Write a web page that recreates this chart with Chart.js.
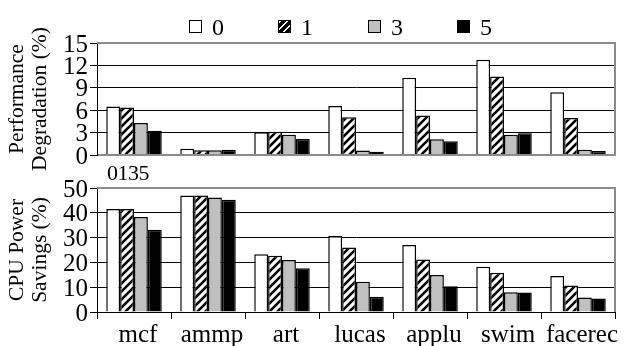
<!DOCTYPE html>
<html>
<head>
<meta charset="utf-8">
<script src="https://cdn.jsdelivr.net/npm/chart.js@4.4.0/dist/chart.umd.min.js"></script>
<style>
html, body { margin: 0; padding: 0; background: #fff; }
#wrap { position: relative; width: 624px; height: 346px; overflow: hidden; font-family: 'Liberation Serif', 'Times New Roman', serif; color: #000; }
#topBox { position: absolute; left: 0; top: 0; width: 624px; height: 175px; }
#botBox { position: absolute; left: 0; top: 165px; width: 624px; height: 181px; }
.lg { position: absolute; top: 20px; width: 13px; height: 13px; box-sizing: border-box; border: 1.5px solid #000; }
.lt { position: absolute; top: 15px; font-size: 24px; line-height: 24px; }
#stray { position: absolute; left: 107px; top: 162px; font-size: 22px; line-height: 22px; letter-spacing: -0.5px; }
</style>
</head>
<body>
<div id="wrap">
  <div id="topBox"><canvas id="perfChart"></canvas></div>
  <div id="botBox"><canvas id="saveChart"></canvas></div>
  <div id="legend"></div>
  <div id="stray">0135</div>
</div>
<script>
const benchmarks = ['mcf', 'ammp', 'art', 'lucas', 'applu', 'swim', 'facerec'];
const seriesNames = ['0', '1', '3', '5'];

const perf0 = [6.5, 0.85, 3.05, 6.55, 10.35, 12.75, 8.4];
const perf1 = [6.35, 0.65, 3.1, 5.05, 5.3, 10.5, 4.95];
const perf3 = [4.3, 0.65, 2.7, 0.6, 2.1, 2.7, 0.7];
const perf5 = [3.25, 0.7, 2.15, 0.45, 1.85, 2.9, 0.55];

const save0 = [41.5, 47, 23.3, 30.6, 27, 18.2, 14.5];
const save1 = [41.5, 47, 22.7, 26, 21.2, 15.8, 10.7];
const save3 = [38.3, 46.2, 21, 12.2, 14.9, 8, 5.8];
const save5 = [33.2, 45.3, 17.6, 6.1, 10.4, 7.9, 5.4];

const perfTicks = [0, 3, 6, 9, 12, 15];
const saveTicks = [0, 10, 20, 30, 40, 50];

const serif = "'Liberation Serif', 'Times New Roman', serif";

function makeHatch() {
    const c = document.createElement('canvas');
    c.width = 8; c.height = 8;
    const g = c.getContext('2d');
    g.fillStyle = '#fff';
    g.fillRect(0, 0, 8, 8);
    g.strokeStyle = '#000';
    g.lineWidth = 2.6;
    g.beginPath();
    g.moveTo(-1, 9); g.lineTo(9, -1);
    g.moveTo(-1, 1); g.lineTo(1, -1);
    g.moveTo(7, 9); g.lineTo(9, 7);
    g.stroke();
    return g.createPattern(c, 'repeat');
}

const hatch = makeHatch();
const fills = ['#ffffff', hatch, '#c0c0c0', '#000000'];

// legend
const legendX = [189, 278, 368, 457];
const legendCss = ['#fff', 'repeating-linear-gradient(135deg, #fff 0 2px, #000 2px 5px)', '#c0c0c0', '#000'];
const legendEl = document.getElementById('legend');
seriesNames.forEach((name, i) => {
    const box = document.createElement('div');
    box.className = 'lg';
    box.style.left = legendX[i] + 'px';
    box.style.background = legendCss[i];
    legendEl.appendChild(box);
    const txt = document.createElement('div');
    txt.className = 'lt';
    txt.style.left = (legendX[i] + 23) + 'px';
    txt.textContent = name;
    legendEl.appendChild(txt);
});

const framePlugin = {
    id: 'frame',
    afterDraw(chart, args, opts) {
        const { ctx, chartArea: a } = chart;
        ctx.save();
        ctx.strokeStyle = '#8c8c8c';
        ctx.lineWidth = 2;
        ctx.beginPath();
        ctx.moveTo(a.left, a.top);
        ctx.lineTo(a.right, a.top);
        ctx.lineTo(a.right, a.bottom);
        if (opts.bottom) ctx.lineTo(a.left + 1, a.bottom);
        ctx.stroke();
        ctx.restore();
    }
};

function makeDatasets(arrs) {
    return arrs.map((d, i) => ({
        label: seriesNames[i],
        data: d,
        backgroundColor: fills[i],
        borderColor: '#000',
        borderWidth: 1.5,
        categoryPercentage: 0.75,
        barPercentage: 1.0
    }));
}

function makeChart(id, arrs, tickVals, max, title, padTop, canvasH, showX) {
    const ctx = document.getElementById(id).getContext('2d');
    return new Chart(ctx, {
        type: 'bar',
        data: { labels: benchmarks, datasets: makeDatasets(arrs) },
        options: {
            responsive: true,
            maintainAspectRatio: false,
            animation: false,
            layout: { padding: { top: padTop, right: 9, left: 0, bottom: 0 } },
            plugins: {
                legend: { display: false },
                tooltip: { enabled: false },
                frame: { bottom: !showX }
            },
            scales: {
                x: {
                    afterFit: axis => { axis.height = canvasH - (showX ? 147 : 155); },
                    grid: {
                        display: showX,
                        drawOnChartArea: false,
                        color: '#000',
                        tickLength: 7,
                        offset: true
                    },
                    border: { display: showX, color: '#000', width: 1 },
                    ticks: {
                        display: showX,
                        color: '#000',
                        font: { family: serif, size: 25 },
                        maxRotation: 0,
                        autoSkip: false,
                        labelOffset: 4,
                        padding: 1
                    }
                },
                y: {
                    min: 0,
                    max: max,
                    afterFit: axis => { axis.width = 97; },
                    afterBuildTicks: axis => { axis.ticks = tickVals.map(v => ({ value: v })); },
                    grid: { color: '#000', lineWidth: 1, tickLength: 7 },
                    border: { color: '#000', width: 1 },
                    ticks: {
                        color: '#000',
                        autoSkip: false,
                        padding: 2,
                        labelOffset: 2,
                        font: { family: serif, size: 25, lineHeight: 0.9 }
                    },
                    title: {
                        display: true,
                        text: title,
                        color: '#000',
                        padding: { top: 6, bottom: 0 },
                        font: { family: serif, size: 21.5, lineHeight: 1.07 }
                    }
                }
            }
        },
        plugins: [framePlugin]
    });
}

makeChart('perfChart', [perf0, perf1, perf3, perf5], perfTicks, 15,
    ['Performance', 'Degradation (%)'], 43, 175, false);
makeChart('saveChart', [save0, save1, save3, save5], saveTicks, 50,
    ['CPU Power', 'Savings (%)'], 23, 181, true);
</script>
</body>
</html>
